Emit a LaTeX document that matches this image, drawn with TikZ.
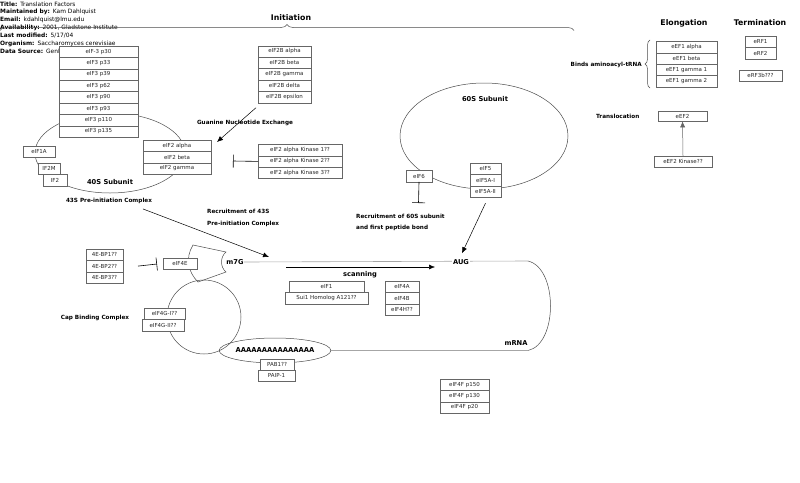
\documentclass[tikz,border=0pt]{standalone}
\usepackage{fontspec}
\setmainfont{DejaVu Sans}
\usetikzlibrary{arrows.meta,positioning,shapes.geometric,decorations.pathreplacing}

\begin{document}
\begin{tikzpicture}[x=1pt,y=-1pt,
  fbox/.style={draw=black!60, fill=white, text=black!85, font=\fontsize{5.5}{6}\selectfont, inner sep=0pt, outer sep=0pt, minimum height=11.4pt},
  lbl/.style={font=\fontsize{5.7}{11.2}\selectfont\bfseries, inner sep=0pt},
  biglbl/.style={font=\fontsize{6.7}{8}\selectfont\bfseries, inner sep=0pt},
  hdr/.style={font=\fontsize{7.8}{9}\selectfont\bfseries, inner sep=0pt},
  meta/.style={font=\fontsize{5.9}{6}\selectfont, anchor=west, inner sep=0pt},
  arr/.style={-{Latex[length=6pt,width=5pt]}, line width=0.5pt},
  inh/.style={-{Bar[width=13pt]}, line width=0.6pt},
  sub/.style={draw=black!70, line width=0.5pt},
  rna/.style={draw=black!35, line width=0.6pt}]
\useasboundingbox (0,0) rectangle (800,482);

% header
\node[meta] (title) at (0,4) {\textbf{Title:}\enspace Translation Factors};
\node[meta] (maint) at (0,12) {\textbf{Maintained by:}\enspace Kam Dahlquist};
\node[meta] (email) at (0,20) {\textbf{Email:}\enspace kdahlquist@lmu.edu};
\node[meta] (avail) at (0,28) {\textbf{Availability:}\enspace 2001, Gladstone Institute};
\node[meta] (modif) at (0,36) {\textbf{Last modified:}\enspace 5/17/04};
\node[meta] (organ) at (0,43.5) {\textbf{Organism:}\enspace Saccharomyces cerevisiae};
\node[meta] (dsrc) at (0,51) {\textbf{Data Source:}\enspace GenMAPP};

% section titles
\coordinate (initl) at (0,30.5);
\coordinate (initr) at (574,30.5);
\draw[decorate, decoration={brace, amplitude=6pt}, black!70, line width=0.5pt] (initl) -- (initr);
\node[hdr] (initiation) at (291,18) {Initiation};
\node[hdr] (elong) at (684,23) {Elongation};
\node[hdr] (term) at (760,23) {Termination};

% elongation / termination
\node[fbox, minimum width=61pt, anchor=north] (efalpha) at (686.5,41.3) {eEF1 alpha};
\node[fbox, minimum width=61pt, below=0pt of efalpha] (efbeta) {eEF1 beta};
\node[fbox, minimum width=61pt, below=0pt of efbeta] (efgone) {eEF1 gamma 1};
\node[fbox, minimum width=61pt, below=0pt of efgone] (efgtwo) {eEF1 gamma 2};
\coordinate (bindsb) at (650,88);
\coordinate (bindst) at (650,40);
\draw[decorate, decoration={brace, amplitude=5pt}, black!70, line width=0.5pt] (bindsb) -- (bindst);
\node[lbl, anchor=east] (binds) at (642,65) {Binds aminoacyl-tRNA};
\node[fbox, minimum width=31pt, anchor=north] (erfone) at (760.5,36) {eRF1};
\node[fbox, minimum width=31pt, below=0pt of erfone] (erftwo) {eRF2};
\node[fbox, minimum width=43pt, minimum height=10.7pt, anchor=north] (erfthree) at (760.5,70) {eRF3b???};
\node[lbl, anchor=west] (transloc) at (596,116) {Translocation};
\node[fbox, minimum width=49pt, minimum height=10.3pt, anchor=north] (eeftwo) at (682.5,111) {eEF2};
\node[fbox, minimum width=58pt, minimum height=10.7pt, anchor=north] (eeftwokin) at (683,156) {eEF2 Kinase??};
\draw[arr, black!60] (eeftwokin.north) -- (eeftwo.south);

% 60S subunit
\node[sub, ellipse, minimum width=168pt, minimum height=106pt, inner sep=0pt] (sixtys) at (484,136) {};
\node[biglbl] (sixtylbl) at (485,99) {60S Subunit};
\node[fbox, minimum width=26pt, anchor=north west] (eifsix) at (406,170.5) {eIF6};
\coordinate (sixbar) at (418.5,203);
\draw[inh] (eifsix.south) -- (sixbar);
\node[fbox, minimum width=31pt, anchor=north] (eiffive) at (485.5,163) {eIF5};
\node[fbox, minimum width=31pt, below=0pt of eiffive] (eiffiveai) {eIF5A-I};
\node[fbox, minimum width=31pt, below=0pt of eiffiveai] (eiffiveaii) {eIF5A-II};
\node[lbl, anchor=west, align=left] (recsixty) at (356,222.2) {Recruitment of 60S subunit\\and first peptide bond};

% 40S subunit
\node[sub, ellipse, minimum width=150pt, minimum height=80pt, inner sep=0pt] (fortys) at (110,153) {};
\node[biglbl] (fortyslbl) at (110,182) {40S Subunit};
\node[fbox, minimum width=32pt, anchor=north west] (eifonea) at (23,146) {eIF1A};
\node[fbox, minimum width=22pt, anchor=north west] (iftwom) at (38,163) {IF2M};
\node[fbox, minimum width=24pt, anchor=north west] (iftwo) at (43,174.5) {IF2};
\node[fbox, minimum width=79pt, anchor=north] (eifthirty) at (98.5,46) {eIF-3 p30};
\node[fbox, minimum width=79pt, below=0pt of eifthirty] (eifthirtythree) {eIF3 p33};
\node[fbox, minimum width=79pt, below=0pt of eifthirtythree] (eifthirtynine) {eIF3 p39};
\node[fbox, minimum width=79pt, below=0pt of eifthirtynine] (eifsixtytwo) {eIF3 p62};
\node[fbox, minimum width=79pt, below=0pt of eifsixtytwo] (eifninety) {eIF3 p90};
\node[fbox, minimum width=79pt, below=0pt of eifninety] (eifninetythree) {eIF3 p93};
\node[fbox, minimum width=79pt, below=0pt of eifninetythree] (eifonetenth) {eIF3 p110};
\node[fbox, minimum width=79pt, below=0pt of eifonetenth] (eifonethirtyfive) {eIF3 p135};
\node[fbox, minimum width=68pt, anchor=north] (eiftwoalpha) at (177,140) {eIF2 alpha};
\node[fbox, minimum width=68pt, below=0pt of eiftwoalpha] (eiftwobeta) {eIF2 beta};
\node[fbox, minimum width=68pt, below=0pt of eiftwobeta] (eiftwogamma) {eIF2 gamma};
\node[lbl] (fortythree) at (109,201) {43S Pre-initiation Complex};

% eIF2B and eIF2 kinases
\node[fbox, minimum width=53pt, anchor=north] (btwoalpha) at (284.5,45.7) {eIF2B alpha};
\node[fbox, minimum width=53pt, below=0pt of btwoalpha] (btwobeta) {eIF2B beta};
\node[fbox, minimum width=53pt, below=0pt of btwobeta] (btwogamma) {eIF2B gamma};
\node[fbox, minimum width=53pt, below=0pt of btwogamma] (btwodelta) {eIF2B delta};
\node[fbox, minimum width=53pt, below=0pt of btwodelta] (btwoepsilon) {eIF2B epsilon};
\node[lbl] (guanine) at (245,123.3) {Guanine Nucleotide Exchange};
\draw[arr] ([xshift=-2pt,yshift=-5pt]btwoepsilon.south west) -- ([xshift=6pt,yshift=-2pt]eiftwoalpha.north east);
\node[fbox, minimum width=84pt, anchor=north] (kinone) at (300,144.3) {eIF2 alpha Kinase 1??};
\node[fbox, minimum width=84pt, below=0pt of kinone] (kintwo) {eIF2 alpha Kinase 2??};
\node[fbox, minimum width=84pt, below=0pt of kintwo] (kinthree) {eIF2 alpha Kinase 3??};
\coordinate (kinbar) at (233,161);
\draw[inh] (kintwo.west) -- (kinbar);

% mRNA
\node[biglbl] (mseven) at (235,262) {m7G};
\coordinate (rnatr) at (528,261);
\coordinate (rnabr) at (528,350.5);
\draw[rna] (mseven.east) -- (rnatr);
\node[biglbl, fill=white, inner sep=1pt] (aug) at (461,262) {AUG};
\draw[sub] (rnatr) .. controls (558,268) and (558,344) .. (rnabr);
\node[biglbl] (mrna) at (516,343) {mRNA};
\node[sub, ellipse, minimum width=102pt, minimum height=25pt, inner sep=0pt, font=\fontsize{6.8}{8}\selectfont\bfseries] (polya) at (275,350.5) {AAAAAAAAAAAAAAA};
\draw[rna] (polya.east) -- (rnabr);
\node[fbox, minimum width=34pt, minimum height=10.5pt, anchor=north west] (pabone) at (260,359.5) {PAB1??};
\node[fbox, minimum width=37pt, anchor=north west] (paip) at (258,370) {PAIP-1};
\draw[arr] ([yshift=-6pt]eiffiveaii.south) -- ([xshift=1pt,yshift=5pt]aug.north);
\node[lbl, anchor=west, align=left] (recfortythree) at (207,218) {Recruitment of 43S\\Pre-initiation Complex};
\coordinate (landing) at (269,257);
\draw[arr] ([xshift=34pt,yshift=-5pt]fortythree.south) -- (landing);

% scanning
\coordinate (scanstart) at (286,267);
\coordinate (scanend) at (435,267);
\draw[arr] (scanstart) -- (scanend);
\node[biglbl] (scanning) at (360,274.5) {scanning};
\node[fbox, minimum width=75pt, anchor=north] (eifone) at (326.5,281) {eIF1};
\node[fbox, minimum width=83pt, below=0pt of eifone] (suione) {Sui1 Homolog A121??};
\node[fbox, minimum width=34pt, anchor=north] (eiffoura) at (402,281) {eIF4A};
\node[fbox, minimum width=34pt, below=0pt of eiffoura] (eiffourb) {eIF4B};
\node[fbox, minimum width=34pt, below=0pt of eiffourb] (eiffourh) {eIF4H??};

% cap binding complex
\node[sub, circle, minimum size=74pt, inner sep=0pt] (capcirc) at (204,317) {};
\draw[sub] (193,245) .. controls (185,258) and (188,272) .. (198,282) -- (226,272) .. controls (220,267) and (220,257) .. (226,252) -- cycle;
\node[fbox, minimum width=34pt, anchor=north west] (eiffoure) at (163,258) {eIF4E};
\node[fbox, minimum width=37pt, anchor=north] (bpone) at (104.5,249) {4E-BP1??};
\node[fbox, minimum width=37pt, below=0pt of bpone] (bptwo) {4E-BP2??};
\node[fbox, minimum width=37pt, below=0pt of bptwo] (bpthree) {4E-BP3??};
\coordinate (bpbar) at (157,264);
\draw[inh] ([xshift=15pt]bptwo.east) -- (bpbar);
\node[lbl] (capbind) at (95,318) {Cap Binding Complex};
\node[fbox, minimum width=41pt, anchor=north west] (eiffourgi) at (144,308) {eIF4G-I??};
\node[fbox, minimum width=42pt, anchor=north west] (eiffourgii) at (142,319.4) {eIF4G-II??};

% eIF4F
\node[fbox, minimum width=49pt, anchor=north] (eiffourfa) at (464.5,379) {eIF4F p150};
\node[fbox, minimum width=49pt, below=0pt of eiffourfa] (eiffourfb) {eIF4F p130};
\node[fbox, minimum width=49pt, below=0pt of eiffourfb] (eiffourfc) {eIF4F p20};
\end{tikzpicture}
\end{document}
